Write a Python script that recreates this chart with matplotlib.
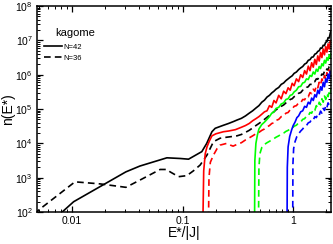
import numpy as np
import matplotlib
matplotlib.use('Agg')
import matplotlib.pyplot as plt
from matplotlib.ticker import (FuncFormatter, LogLocator, NullFormatter,
                               FixedLocator, LogFormatterMathtext)

plt.rcParams['font.family'] = ['Liberation Sans', 'DejaVu Sans']

# shared energy grid for the noisy high-energy tails
E_tail = [0.34, 0.37, 0.40, 0.43, 0.46, 0.49, 0.52, 0.55, 0.58, 0.61, 0.64,
          0.67, 0.70, 0.74, 0.78, 0.82, 0.86, 0.90, 0.94, 0.98, 1.02, 1.07,
          1.12, 1.17, 1.22, 1.27, 1.32, 1.37, 1.42, 1.47, 1.52, 1.57, 1.62,
          1.67, 1.72, 1.77, 1.82, 1.87, 1.92, 1.97, 2.02, 2.07, 2.12, 2.17, 2.2]

x_ticks = [0.01, 0.1, 1]
y_ticks = [1e2, 1e3, 1e4, 1e5, 1e6, 1e7, 1e8]

# log10 n(E*) values
# black, N=42
k42_E = [0.0078, 0.0103, 0.0306, 0.041, 0.072, 0.095, 0.113, 0.149, 0.165,
         0.184, 0.197, 0.23, 0.26, 0.29, 0.31] + E_tail
k42_n = [1.95, 2.30, 3.17, 3.34, 3.58, 3.56, 3.54, 3.76, 4.0,
         4.34, 4.44, 4.52, 4.58, 4.64, 4.68,
         4.73, 4.80, 4.88, 4.95, 5.03, 5.10, 5.20, 5.26, 5.35, 5.40, 5.47,
         5.52, 5.58, 5.63, 5.72, 5.76, 5.83, 5.88, 5.93, 5.97, 6.04, 6.08,
         6.15, 6.20, 6.24, 6.31, 6.34, 6.42, 6.44, 6.51, 6.52, 6.60, 6.62,
         6.68, 6.70, 6.78, 6.77, 6.86, 6.85, 6.95, 6.96, 7.08, 7.07, 7.22, 7.28]

# black, N=36
k36_E = [0.0045, 0.0106, 0.0179, 0.0306, 0.041, 0.0625, 0.072, 0.077, 0.0917,
         0.109, 0.125, 0.144, 0.166, 0.19, 0.218, 0.25, 0.28, 0.31] + E_tail
k36_n = [1.95, 2.88, 2.82, 2.72, 2.93, 3.24, 3.24, 3.17, 3.03,
         3.06, 3.20, 3.37, 3.66, 4.05, 4.15, 4.18, 4.20, 4.22,
         4.26, 4.32, 4.38, 4.45, 4.52, 4.58, 4.64, 4.70, 4.76, 4.82, 4.88,
         4.92, 4.98, 5.02, 5.08, 5.12, 5.18, 5.22, 5.28, 5.30, 5.36, 5.40,
         5.46, 5.48, 5.55, 5.56, 5.63, 5.65, 5.72, 5.72, 5.80, 5.80, 5.88,
         5.87, 5.95, 5.94, 6.02, 6.00, 6.10, 6.07, 6.17, 6.14, 6.24, 6.22, 6.30]

# red, N=42
r42_E = [0.152, 0.155, 0.16, 0.166, 0.175, 0.184, 0.20, 0.234, 0.26, 0.30] + E_tail
r42_n = [1.5, 3.2, 3.7, 3.90, 4.08, 4.22, 4.28, 4.34, 4.36, 4.40,
         4.47, 4.52, 4.58, 4.66, 4.72, 4.78, 4.85, 4.92, 4.95, 5.10, 5.05,
         5.25, 5.18, 5.40, 5.30, 5.52, 5.45, 5.62, 5.55, 5.75, 5.68, 5.88,
         5.80, 6.00, 5.92, 6.12, 6.02, 6.25, 6.12, 6.35, 6.22, 6.45, 6.30,
         6.55, 6.40, 6.65, 6.50, 6.75, 6.58, 6.82, 6.66, 6.90, 6.75, 6.98, 6.95]

# red, N=36
r36_E = [0.171, 0.173, 0.178, 0.19, 0.205, 0.218, 0.25, 0.27, 0.286, 0.31] + E_tail
r36_n = [1.5, 3.0, 3.45, 3.66, 3.85, 3.95, 4.0, 3.95, 3.92, 3.97,
         4.02, 4.10, 4.16, 4.22, 4.28, 4.32, 4.38, 4.42, 4.48, 4.52, 4.58,
         4.60, 4.67, 4.70, 4.78, 4.80, 4.88, 4.90, 4.98, 5.00, 5.08, 5.10,
         5.18, 5.18, 5.28, 5.27, 5.38, 5.36, 5.48, 5.45, 5.58, 5.52, 5.68,
         5.62, 5.78, 5.70, 5.88, 5.80, 5.98, 5.88, 6.06, 5.96, 6.14, 6.05, 6.18]

# green, N=42
g42_E = [0.447, 0.45, 0.46, 0.475] + E_tail[5:]
g42_n = [1.5, 3.5, 4.0, 4.25,
         4.42, 4.55, 4.62, 4.70, 4.78, 4.88, 4.92, 5.02, 5.05, 5.15, 5.18,
         5.28, 5.30, 5.40, 5.42, 5.50, 5.55, 5.65, 5.66, 5.76, 5.78, 5.88,
         5.86, 5.98, 5.95, 6.08, 6.02, 6.16, 6.10, 6.24, 6.18, 6.32, 6.26,
         6.42, 6.34, 6.50, 6.42, 6.58, 6.50, 6.62]

# green, N=36
g36_E = [0.485, 0.49, 0.50] + E_tail[6:]
g36_n = [1.5, 3.3, 3.7,
         3.88, 3.97, 4.02, 4.06, 4.10, 4.14, 4.18, 4.22, 4.27, 4.30, 4.35,
         4.38, 4.42, 4.44, 4.50, 4.53, 4.60, 4.62, 4.70, 4.72, 4.80, 4.80,
         4.90, 4.88, 5.00, 4.96, 5.10, 5.04, 5.20, 5.12, 5.30, 5.20, 5.38,
         5.28, 5.45, 5.36, 5.52, 5.45, 5.58]

# blue, N=42
b42_E = [0.88, 0.885, 0.90, 0.93, 0.97, 1.0, 1.04, 1.08] + E_tail[22:]
b42_n = [1.5, 3.3, 3.9, 4.2, 4.4, 4.52, 4.62, 4.75,
         4.80, 4.92, 4.95, 5.08, 5.05, 5.20, 5.15, 5.32, 5.25, 5.42, 5.35,
         5.55, 5.45, 5.65, 5.55, 5.78, 5.65, 5.88, 5.78, 6.02, 5.88, 6.10, 6.05]

# blue, N=36
b36_E = [0.99, 0.995, 1.01, 1.04, 1.08] + E_tail[22:]
b36_n = [1.5, 3.4, 3.85, 4.05, 4.2,
         4.28, 4.36, 4.42, 4.50, 4.52, 4.60, 4.62, 4.70, 4.68, 4.78, 4.75,
         4.86, 4.82, 4.94, 4.88, 5.02, 4.96, 5.10, 5.04, 5.18, 5.12, 5.20, 5.25]

curves = [
    (k42_E, k42_n, 'black', '-'), (k36_E, k36_n, 'black', '--'),
    (r42_E, r42_n, '#ff0000', '-'), (r36_E, r36_n, '#ff0000', '--'),
    (g42_E, g42_n, '#00ff00', '-'), (g36_E, g36_n, '#00ff00', '--'),
    (b42_E, b42_n, '#0000ff', '-'), (b36_E, b36_n, '#0000ff', '--'),
]

fig = plt.figure(figsize=(3.33, 2.44), dpi=100)
ax = fig.add_axes([0.111, 0.131, 0.883, 0.844])

lines = []
for E, logn, col, ls in curves:
    l, = ax.plot(E, np.power(10.0, logn), color=col, linestyle=ls,
                 linewidth=1.2, dashes=(4, 2.5) if ls == '--' else (None, None))
    lines.append(l)

ax.set_xscale('log')
ax.set_yscale('log')
ax.set_xlim(0.0048, 2.2)
ax.set_ylim(1e2, 1e8)

# fixed major ticks so no labels sit outside the view
ax.xaxis.set_major_locator(FixedLocator(x_ticks))
ax.xaxis.set_major_formatter(FuncFormatter(lambda v, p: '%g' % v))
ax.xaxis.set_minor_formatter(NullFormatter())
ax.yaxis.set_major_locator(FixedLocator(y_ticks))
ax.yaxis.set_major_formatter(LogFormatterMathtext())
ax.yaxis.set_minor_locator(LogLocator(base=10, subs=np.arange(2, 10), numticks=20))
ax.yaxis.set_minor_formatter(NullFormatter())

ax.tick_params(which='both', direction='in', top=True, right=True,
               labelsize=7.5, pad=3)
ax.tick_params(which='major', length=4, width=0.9)
ax.tick_params(which='minor', length=2, width=0.7)
for s in ax.spines.values():
    s.set_linewidth(1.1)

ax.set_xlabel('E*/|J|', fontsize=10, labelpad=0)
ax.set_ylabel('n(E*)', fontsize=10, labelpad=0)

ax.text(0.061, 0.869, 'kagome', transform=ax.transAxes, fontsize=8,
        va='center', ha='left')
ax.legend(lines[:2], ['N=42', 'N=36'], loc='upper left',
          bbox_to_anchor=(0.025, 0.82), frameon=False, fontsize=5.5,
          handlelength=2.3, handletextpad=0.2, labelspacing=0.5,
          borderaxespad=0, borderpad=0)

fig.savefig('out.png', dpi=100)
